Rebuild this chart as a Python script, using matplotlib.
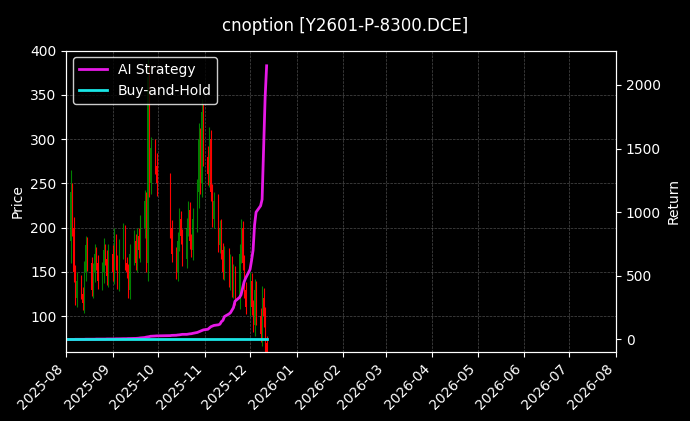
import numpy as np
import pandas as pd
import matplotlib
matplotlib.use("Agg")
from matplotlib import pyplot as plt
import matplotlib.dates as mdates

# trading days (Oct 1-8 holiday skipped)
days = pd.bdate_range("2025-08-01", "2025-12-12")
days = days[(days < "2025-10-01") | (days > "2025-10-08")]

opens = [210,185,240,200,150,120,140,125,115,150,180,160,130,150,170,160,140,150,175,165,145,
         170,150,185,160,140,175,195,160,150,130,170,185,160,190,175,200,230,160,370,250,290,270,
         250,200,170,150,185,210,190,165,200,220,185,175,210,240,300,250,330,
         280,260,300,240,210,230,180,200,175,150,170,140,160,130,150,120,170,200,160,130,
         110,140,110,90,130,100,80,120,100,70]
closes = [185,240,200,150,120,140,125,115,150,180,160,130,150,170,160,140,150,175,165,145,170,
          150,185,160,140,175,195,160,150,130,170,185,160,190,175,200,230,160,370,250,290,270,250,
          200,170,150,185,210,190,165,200,220,185,175,210,240,300,250,330,280,
          260,300,240,210,230,180,200,175,150,170,140,160,130,150,120,170,200,160,130,110,
          140,110,90,130,100,80,120,100,70,60]
wicks = [15,25,10,12,8,10,6,8,12,10,9,7,10,12,8,9,11,13,7,10,12,
         10,14,8,9,12,10,8,7,9,11,12,8,10,9,14,12,10,20,15,12,10,14,
         12,9,8,10,12,9,8,11,10,9,8,12,15,18,12,15,10,
         12,14,10,9,10,8,9,10,8,9,7,10,8,9,7,12,10,8,9,8,
         10,9,8,12,10,9,14,12,10,8]
strategy = [0,0,0,0,1,1,1,1,1,2,2,2,2,2,3,3,3,3,3,4,4,
            4,4,5,5,5,6,6,6,7,7,8,8,9,10,12,15,18,20,22,25,27,28,
            30,32,33,35,36,38,40,40,42,44,45,48,55,60,65,70,75,
            80,90,100,105,110,115,120,140,150,180,200,210,230,250,300,330,350,400,450,480,
            550,620,700,900,1000,1050,1100,1500,1900,2150]
buy_hold = [0] * 90

plt.rcParams['font.family'] = ['DejaVu Sans']
fig, ax = plt.subplots(figsize=(6.9, 4.21), dpi=100, facecolor='black')
ax.set_facecolor('black')
ax2 = ax.twinx()

x = mdates.date2num(days)
for xi, o, c, w in zip(x, opens, closes, wicks):
    col = 'green' if c >= o else 'red'
    ax.vlines(xi, min(o, c) - w, max(o, c) + w, color=col, linewidth=0.8)
    ax.bar(xi, abs(c - o), bottom=min(o, c), width=0.6, color=col)

ax2.plot(days, strategy, color='#e619e6', linewidth=2, label='AI Strategy')
ax2.plot(days, buy_hold, color='#19e6e6', linewidth=2, label='Buy-and-Hold')

ax.set_ylim(60, 400)
ax2.set_ylim(-95, 2270)
ax.set_xlim(mdates.datestr2num("2025-08-01"), mdates.datestr2num("2026-08-01"))
ax.xaxis.set_major_locator(mdates.MonthLocator())
ax.xaxis.set_major_formatter(mdates.DateFormatter('%Y-%m'))
plt.setp(ax.get_xticklabels(), rotation=45, ha='right')
ax.grid(True, color='gray', linestyle='--', linewidth=0.5, alpha=0.6)

for a in (ax, ax2):
    a.tick_params(colors='white')
    for s in a.spines.values():
        s.set_color('white')
ax.set_ylabel('Price', color='white')
ax2.set_ylabel('Return', color='white')
fig.suptitle('cnoption [Y2601-P-8300.DCE]', color='white', y=0.96)
leg = ax2.legend(loc='upper left', facecolor='black', edgecolor='white', labelcolor='white')

fig.subplots_adjust(left=0.096, right=0.893, top=0.88, bottom=0.165)
fig.savefig('out.png', facecolor='black')
